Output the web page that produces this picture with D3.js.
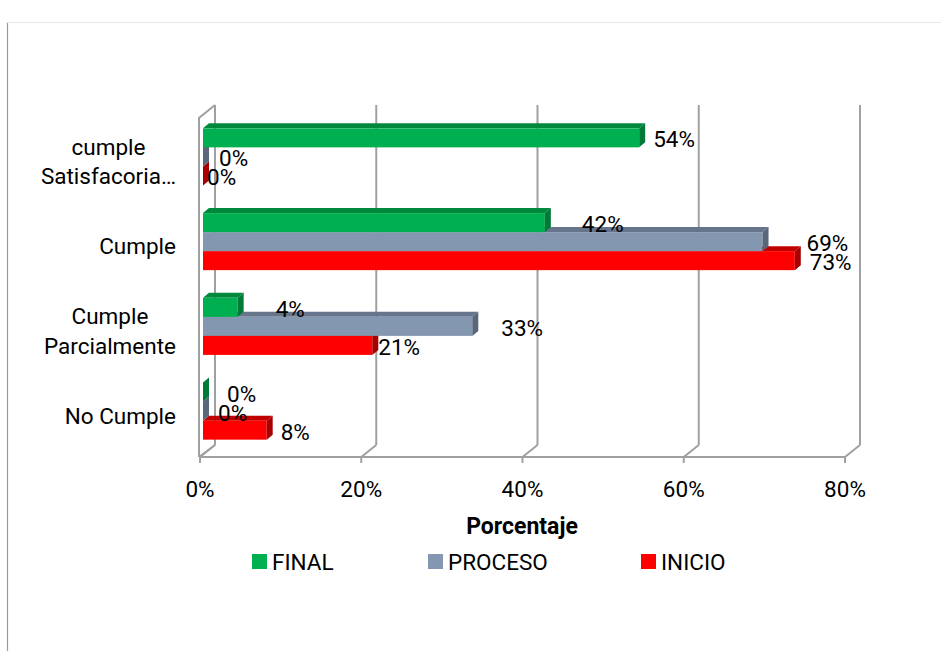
<!DOCTYPE html>
<html><head><meta charset="utf-8">
<script src="https://cdn.jsdelivr.net/npm/d3@7"></script>
<style>body{margin:0;background:#fff} text{font-family:Roboto,"Liberation Sans",sans-serif}</style>
</head><body><svg id="c" width="941" height="651"></svg>
<script>
// ---- data ----
const categories = ["cumple\nSatisfacoria…", "Cumple", "Cumple\nParcialmente", "No Cumple"];
const seriesNames = ["FINAL", "PROCESO", "INICIO"];
const finalValues = [54.1, 42.4, 4.3, 0];
const procesoValues = [0, 69.4, 33.4, 0];
const inicioValues = [0, 73.4, 21.0, 7.9];
const xTicks = [0, 20, 40, 60, 80];
const axisTitle = "Porcentaje";

// ---- style / layout ----
const seriesValues = [finalValues, procesoValues, inicioValues];
const faceColors = {FINAL:"#00b050", PROCESO:"#8497b0", INICIO:"#ff0000"};
const topColors = {FINAL:"#00893d", PROCESO:"#66758b", INICIO:"#c00000"};
const sideColors = {FINAL:"#007a36", PROCESO:"#5a677a", INICIO:"#a80000"};
// manual label nudges (px) as placed in the original
const labelShift = {FINAL:[8,31,32,18], PROCESO:[10,38,23,9], INICIO:[-2,9,0,8]};

const svg = d3.select("#c");
const fontSize = 22.5;
const x = d3.scaleLinear().domain([0, 80]).range([200, 845]);
const y = d3.scaleBand().domain(categories).range([118, 457]).paddingInner(0.327).paddingOuter(0.1635);
const ySub = d3.scaleBand().domain(seriesNames).range([0, y.bandwidth()]);
const back = {dx: 15, dy: -12};
const barOff = {dx: 3, dy: -3.5};
const barDepth = {dx: 6, dy: -5};
const floorY = 457, topY = 118;
const grid = "#a0a0a0";

// outer border
svg.append("line").attr("x1",7.5).attr("x2",7.5).attr("y1",22).attr("y2",651).attr("stroke","#9a9a9a").attr("stroke-width",1.2);
svg.append("line").attr("x1",7).attr("x2",941).attr("y1",22.5).attr("y2",22.5).attr("stroke","#e8e8e8").attr("stroke-width",1);

const g = svg.append("g");
// left wall
const lx = x(0) - 1;
g.append("path").attr("d", `M${lx},${floorY}L${lx},${topY}L${x(0)+back.dx},${topY+back.dy-1}`)
  .attr("fill","none").attr("stroke",grid).attr("stroke-width",2);
g.append("path").attr("d", `M${lx},${floorY}L${x(0)+back.dx},${floorY+back.dy}`)
  .attr("fill","none").attr("stroke",grid).attr("stroke-width",2);
// floor front line
g.append("line").attr("x1",lx).attr("x2",x(80)).attr("y1",floorY).attr("y2",floorY).attr("stroke",grid).attr("stroke-width",2);
// gridlines on back wall + floor diagonals + ticks
xTicks.forEach(t => {
  const bx = x(t) + back.dx;
  g.append("line").attr("x1",bx).attr("x2",bx).attr("y1",topY+back.dy-1).attr("y2",floorY+back.dy).attr("stroke",grid).attr("stroke-width",2);
  g.append("line").attr("x1",x(t)).attr("x2",bx).attr("y1",floorY).attr("y2",floorY+back.dy).attr("stroke",grid).attr("stroke-width",2);
  g.append("line").attr("x1",x(t)).attr("x2",x(t)).attr("y1",floorY).attr("y2",floorY+6).attr("stroke",grid).attr("stroke-width",2);
  g.append("text").attr("x",x(t)).attr("y",497).attr("text-anchor","middle").attr("font-size",fontSize).attr("fill","#000").text(t+"%");
});

// bars (bottom series first so upper bars cover lower top faces)
const bars = svg.append("g");
[...seriesNames].reverse().forEach(s => {
  const vals = seriesValues[seriesNames.indexOf(s)];
  categories.forEach((c, i) => {
    const x0 = x(0) + barOff.dx, x1 = x(vals[i]) + barOff.dx;
    const y0 = y(c) + ySub(s) + barOff.dy, h = ySub.bandwidth();
    const dx = barDepth.dx, dy = barDepth.dy;
    bars.append("path").attr("d", `M${x0},${y0}L${x1},${y0}L${x1+dx},${y0+dy}L${x0+dx},${y0+dy}Z`).attr("fill", topColors[s]);
    bars.append("rect").attr("x",x0).attr("y",y0).attr("width",Math.max(0,x1-x0)).attr("height",h).attr("fill",faceColors[s]);
    bars.append("path").attr("d", `M${x1},${y0}L${x1+dx},${y0+dy}L${x1+dx},${y0+dy+h}L${x1},${y0+h}Z`).attr("fill", sideColors[s]);
  });
});

// data labels
const labels = svg.append("g");
seriesNames.forEach((s, si) => {
  const vals = seriesValues[si];
  categories.forEach((c, i) => {
    const cy = y(c) + ySub(s) + barOff.dy + ySub.bandwidth()/2 + 1.5;
    labels.append("text")
      .attr("x", x(vals[i]) + barOff.dx + barDepth.dx + labelShift[s][i])
      .attr("y", cy + 8)
      .attr("font-size", fontSize).attr("fill","#000")
      .text(Math.round(vals[i]) + "%");
  });
});

// category labels
const catG = svg.append("g");
categories.forEach(c => {
  const lines = c.split("\n");
  const fc = y(c) + y.bandwidth()/2;
  const t = catG.append("text").attr("font-size", fontSize).attr("fill","#000");
  const spans = lines.map((ln, k) => t.append("tspan").attr("y", fc + 9 + (k - (lines.length-1)/2)*29.5).text(ln));
  const widths = spans.map(sp => sp.node().getComputedTextLength());
  const maxW = Math.max(...widths);
  const right = 176;
  spans.forEach((sp, k) => sp.attr("x", right - maxW/2).attr("text-anchor","middle"));
});

// axis title
svg.append("text").attr("x", 522).attr("y", 534).attr("text-anchor","middle")
  .attr("font-size", 23).attr("font-weight","bold").attr("fill","#000").text(axisTitle);

// legend
const legendX = [252, 428, 641];
seriesNames.forEach((s, i) => {
  svg.append("rect").attr("x", legendX[i]).attr("y", 554).attr("width", 15).attr("height", 15).attr("fill", faceColors[s]);
  svg.append("text").attr("x", legendX[i] + 20).attr("y", 569.5).attr("font-size", fontSize).attr("fill","#000").text(s);
});
</script></body></html>
